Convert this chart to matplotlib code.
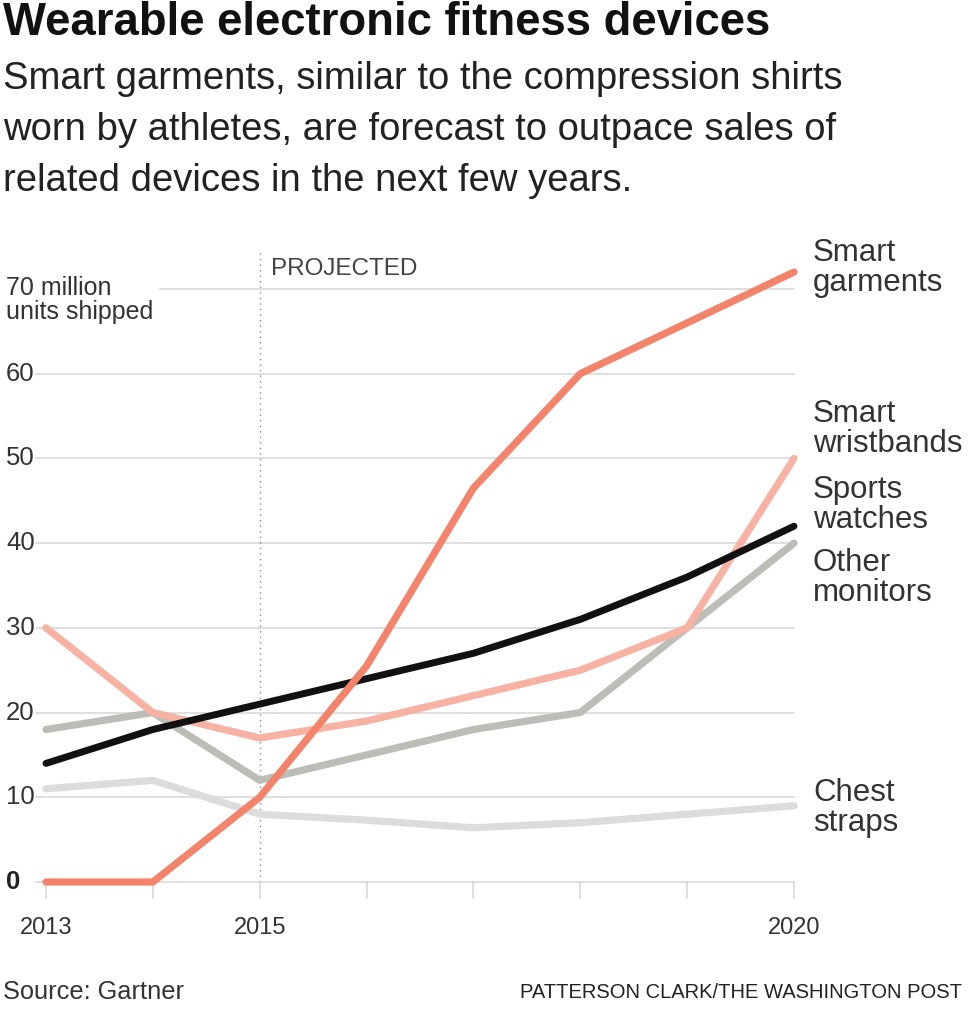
import matplotlib
matplotlib.use('Agg')
import matplotlib.pyplot as plt
import matplotlib.transforms as mtransforms

# data (million units shipped)
years = [2013, 2014, 2015, 2016, 2017, 2018, 2019, 2020]
smart_garments = [0, 0, 10, 25.5, 46.5, 60, 66, 72]
smart_wristbands = [30, 20, 17, 19, 22, 25, 30, 50]
sports_watches = [14, 18, 21, 24, 27, 31, 36, 42]
other_monitors = [18, 20, 12, 15, 18, 20, 30, 40]
chest_straps = [11, 12, 8, 7.3, 6.4, 7, 8, 9]

y_ticks = [0, 10, 20, 30, 40, 50, 60]
x_labels = [2013, 2015, 2020]

plt.rcParams['font.family'] = ['Liberation Sans', 'DejaVu Sans']

fig = plt.figure(figsize=(9.7, 10.24), dpi=100)
W, H = 970, 1024

# axes: 2013 -> x=46px, 2020 -> x=794px ; 0 -> y=882px, 70 -> y=289px
px_per_year = (794 - 46) / 7
x_left = 2013 - (46 - 36) / px_per_year
ax = fig.add_axes([36 / W, 1 - 882 / H, (794 - 36) / W, (882 - 289) / H])
ax.set_xlim(x_left, 2020)
ax.set_ylim(0, 70)
ax.axis('off')

grid_c = '#d6d6d6'
for v in y_ticks:
    ax.plot([x_left, 2020], [v, v], color=grid_c, lw=1.1, zorder=1, clip_on=False)
# top gridline starts after the unit label
ax.plot([2013 + (160 - 46) / px_per_year, 2020], [70, 70], color=grid_c, lw=1.1,
        zorder=1, clip_on=False)

# year ticks below the baseline
for yr in years:
    ax.plot([yr, yr], [0, -1.9], color=grid_c, lw=1.1, clip_on=False)
for yr in x_labels:
    ax.text(yr, -5.4, str(yr), ha='center', va='center', fontsize=17, color='#333333')

# projected divider
ax.plot([2015, 2015], [0, 74.5], color='#888888', lw=1, ls=(0, (1, 3)), clip_on=False, zorder=1)
ax.text(2015.11, 72.4, 'PROJECTED', ha='left', va='center', fontsize=17.5,
        color='#444444')

# y labels at left edge of figure
tr = mtransforms.blended_transform_factory(fig.transFigure, ax.transData)
for v in y_ticks[1:]:
    ax.text(6 / W, v, str(v), transform=tr, ha='left', va='center', fontsize=18.5, color='#333333')
ax.text(6 / W, 0, '0', transform=tr, ha='left', va='center', fontsize=18.5,
        color='#222222', fontweight='bold')
ax.text(6 / W, 68.7, '70 million\nunits shipped', transform=tr, ha='left', va='center',
        fontsize=18, color='#333333', linespacing=1.05)

series = [
    (chest_straps, '#dcdcdc', 5.2, 'Chest\nstraps', 8.7),
    (other_monitors, '#bdbdb7', 5.2, 'Other\nmonitors', 35.9),
    (smart_wristbands, '#f7b2a3', 5.2, 'Smart\nwristbands', 53.5),
    (sports_watches, '#111111', 5.0, 'Sports\nwatches', 44.5),
    (smart_garments, '#f3836a', 5.2, 'Smart\ngarments', 72.5),
]
for i, (vals, col, lw, name, label_y) in enumerate(series):
    ax.plot(years, vals, color=col, lw=lw, solid_capstyle='round',
            solid_joinstyle='round', zorder=3 + i, clip_on=False)
    ax.text(2020 + 19 / px_per_year, label_y, name, ha='left', va='center',
            fontsize=22.5, color='#333333', linespacing=1.0)

# titles
fig.text(3 / W, 1 - 23 / H, 'Wearable electronic fitness devices', ha='left', va='center',
         fontsize=32.8, fontweight='bold', color='#111111')
fig.text(3 / W, 1 - 130 / H,
         'Smart garments, similar to the compression shirts\n'
         'worn by athletes, are forecast to outpace sales of\n'
         'related devices in the next few years.',
         ha='left', va='center', fontsize=27.5, color='#222222', linespacing=1.53)

fig.text(3 / W, 1 - 992 / H, 'Source: Gartner', ha='left', va='center', fontsize=18.3,
         color='#333333')
fig.text(962 / W, 1 - 993 / H, 'PATTERSON CLARK/THE WASHINGTON POST', ha='right',
         va='center', fontsize=14.5, color='#222222')

fig.savefig('out.png', dpi=100, facecolor='white')
